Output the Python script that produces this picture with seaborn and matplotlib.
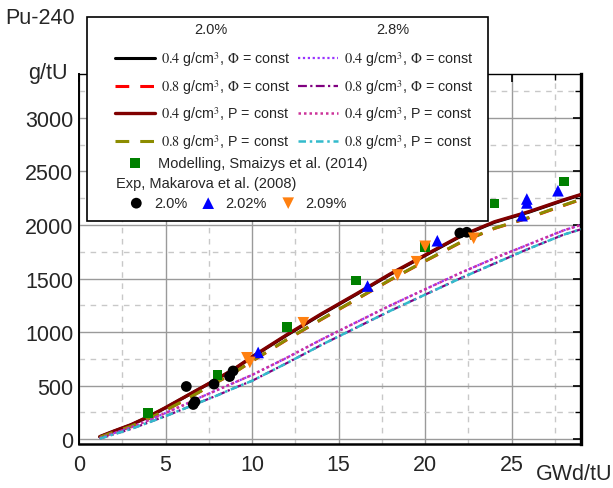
# Pu-240 build-up vs burnup, model curves + measurements
import numpy as np
import pandas as pd
import matplotlib
matplotlib.use("Agg")
import matplotlib.pyplot as plt
import seaborn as sns
from matplotlib.ticker import MultipleLocator
from matplotlib.patches import Rectangle

# burnup grid of the model curves (GWd/tU)
burnup = [1.2, 2, 3, 4, 5, 6, 7, 8, 9, 10, 12, 14, 16, 18, 20, 22, 24, 26, 28, 29]

# 2.0 % enrichment, Pu-240 in g/tU
pu20_04_phi = [22, 73, 133, 208, 293, 383, 473, 563, 658, 766, 970, 1165, 1350, 1540, 1715, 1890, 2025, 2120, 2230, 2282]
pu20_08_phi = [18, 65, 120, 190, 270, 355, 445, 535, 625, 728, 928, 1118, 1303, 1488, 1663, 1833, 1968, 2068, 2183, 2238]
pu20_04_p = [24, 75, 135, 210, 295, 385, 475, 565, 660, 770, 975, 1170, 1355, 1545, 1720, 1895, 2030, 2125, 2235, 2285]
pu20_08_p = [18, 65, 120, 190, 270, 355, 445, 535, 625, 730, 930, 1120, 1305, 1490, 1665, 1835, 1970, 2070, 2185, 2240]

# 2.8 % enrichment
pu28_04_phi = [10, 55, 110, 175, 245, 315, 390, 460, 530, 600, 760, 930, 1090, 1250, 1400, 1550, 1690, 1820, 1950, 2000]
pu28_08_phi = [5, 45, 95, 155, 215, 280, 345, 410, 480, 545, 710, 880, 1040, 1200, 1350, 1500, 1640, 1780, 1910, 1960]
pu28_04_p = [10, 55, 110, 175, 245, 315, 390, 460, 530, 600, 760, 930, 1090, 1250, 1400, 1550, 1690, 1820, 1950, 2000]
pu28_08_p = [5, 45, 95, 155, 215, 280, 345, 410, 480, 545, 710, 880, 1040, 1200, 1350, 1500, 1640, 1780, 1910, 1960]

# modelling, Smaizys et al. (2014)
model_bu = [4, 8, 12, 16, 20, 24, 28]
model_pu = [243, 598, 1047, 1480, 1797, 2202, 2405]

# experiment, Makarova et al. (2008)
exp20_bu = [6.2, 6.6, 6.7, 7.8, 8.7, 8.9, 22.0, 22.4]
exp20_pu = [492, 324, 349, 514, 585, 637, 1925, 1932]
exp202_bu = [10.35, 16.67, 20.7, 25.6, 25.87, 25.87, 27.67]
exp202_pu = [810, 1430, 1853, 2087, 2206, 2243, 2320]
exp209_bu = [9.7, 9.87, 12.96, 18.4, 19.5, 20.0, 22.8]
exp209_pu = [760, 717, 1087, 1533, 1657, 1801, 1876]

line_labels = [
    r"$0.4$ g/cm$^3$, $\Phi$ = const",
    r"$0.8$ g/cm$^3$, $\Phi$ = const",
    r"$0.4$ g/cm$^3$, P = const",
    r"$0.8$ g/cm$^3$, P = const",
    r"$0.4$ g/cm$^3$, $\Phi$ = const",
    r"$0.8$ g/cm$^3$, $\Phi$ = const",
    r"$0.4$ g/cm$^3$, P = const",
    r"$0.8$ g/cm$^3$, P = const",
]
exp_labels = ["2.0%", "2.02%", "2.09%"]

sns.set_style("white")
plt.rcParams["font.family"] = ["Liberation Sans", "DejaVu Sans"]
plt.rcParams["mathtext.fontset"] = "stix"

W, H = 613, 489
fig = plt.figure(figsize=(W / 100, H / 100), dpi=100)
ax = fig.add_axes([79 / W, 1 - 445 / H, (581 - 79) / W, (445 - 75) / H])

# model curves, drawn so the upper ones cover the lower as in the original
curves = [
    (pu20_04_phi, "black", "-", 2.2),
    (pu20_08_phi, "red", (0, (4.5, 3.6)), 2.2),
    (pu20_04_p, "#800000", "-", 2.4),
    (pu20_08_p, "#8c8c00", (0, (4.5, 3.6)), 2.2),
    (pu28_04_phi, "#9933ff", (0, (1, 1.2)), 1.6),
    (pu28_08_phi, "#800080", (0, (4, 1.5, 1, 1.5)), 1.6),
    (pu28_04_p, "#cc3399", (0, (1, 1.2)), 1.8),
    (pu28_08_p, "#33bbcc", (0, (3, 1.5, 1, 1.5)), 1.8),
]
for ys, col, ls, lw in curves:
    sns.lineplot(x=burnup, y=ys, color=col, linestyle=ls, linewidth=lw,
                 errorbar=None, ax=ax, legend=False, zorder=3)

# points
sns.scatterplot(x=model_bu, y=model_pu, marker="s", color="#008000", s=48,
                edgecolor="none", ax=ax, zorder=5, legend=False)
sns.scatterplot(x=exp20_bu, y=exp20_pu, marker="o", color="black", s=60,
                edgecolor="none", ax=ax, zorder=5, legend=False)
sns.scatterplot(x=exp202_bu, y=exp202_pu, marker="^", color="#0000ff", s=70,
                edgecolor="none", ax=ax, zorder=5, legend=False)
sns.scatterplot(x=exp209_bu, y=exp209_pu, marker="v", color="#ff8010", s=70,
                edgecolor="none", ax=ax, zorder=5, legend=False)

ax.set(xlim=(0, 29), ylim=(-45, 3410), xlabel="", ylabel="")
ax.xaxis.set_major_locator(MultipleLocator(5))
ax.xaxis.set_minor_locator(MultipleLocator(2.5))
ax.yaxis.set_major_locator(MultipleLocator(500))
ax.yaxis.set_minor_locator(MultipleLocator(250))
ax.grid(which="major", color="#9a9a9a", linewidth=1.0, linestyle="-")
ax.grid(which="minor", color="#c8c8c8", linewidth=1.0, linestyle=(0, (4, 4)))
ax.set_axisbelow(True)
ax.tick_params(which="both", direction="in", top=True, right=True,
               labelsize=15.5, color="black")
ax.tick_params(which="major", length=6, width=1.2)
ax.tick_params(which="minor", length=4, width=1.0)
ax.tick_params(axis="x", pad=7)
ax.tick_params(axis="y", pad=4)
for side, lw in [("left", 1.4), ("bottom", 1.8), ("right", 2.4), ("top", 1.0)]:
    ax.spines[side].set_linewidth(lw)
    ax.spines[side].set_color("black")

# axis texts
fig.text(5 / W, 1 - 18 / H, "Pu-240", fontsize=15.5, ha="left", va="center")
fig.text(68 / W, 1 - 74 / H, "g/tU", fontsize=15.5, ha="right", va="center")
fig.text(612 / W, 1 - 475 / H, "GWd/tU", fontsize=15.5, ha="right", va="center")

# legend box
fig.add_artist(Rectangle((87 / W, 1 - 222 / H), (488 - 87) / W, (222 - 18) / H,
                         transform=fig.transFigure, facecolor="white",
                         edgecolor="black", linewidth=1.2, zorder=4))
fig.text(211 / W, 1 - 30 / H, "2.0%", fontsize=10.5, ha="center", va="center", zorder=6)
fig.text(393 / W, 1 - 30 / H, "2.8%", fontsize=10.5, ha="center", va="center", zorder=6)

fig.legend(handles=ax.lines[:8], labels=line_labels, ncol=2, loc="center left",
           bbox_to_anchor=(115 / W, 1 - 101 / H), frameon=False, fontsize=10.3,
           handlelength=2.8, handletextpad=0.4, columnspacing=0.55,
           labelspacing=0.62, borderpad=0, borderaxespad=0)
fig.legend(handles=[ax.collections[0]], labels=["Modelling, Smaizys et al. (2014)"],
           loc="center left", bbox_to_anchor=(124 / W, 1 - 164 / H), frameon=False,
           fontsize=10.5, handlelength=1.5, handletextpad=0.85, borderpad=0,
           borderaxespad=0, scatterpoints=1)
fig.text(116 / W, 1 - 184 / H, "Exp, Makarova et al. (2008)", fontsize=10.5,
         ha="left", va="center", zorder=6)
fig.legend(handles=ax.collections[1:4], labels=exp_labels, ncol=3,
           loc="center left", bbox_to_anchor=(129 / W, 1 - 204 / H), frameon=False,
           fontsize=10.5, handlelength=1.0, handletextpad=0.7, columnspacing=0.95,
           borderpad=0, borderaxespad=0, scatterpoints=1)

fig.savefig("out.png", dpi=100)
